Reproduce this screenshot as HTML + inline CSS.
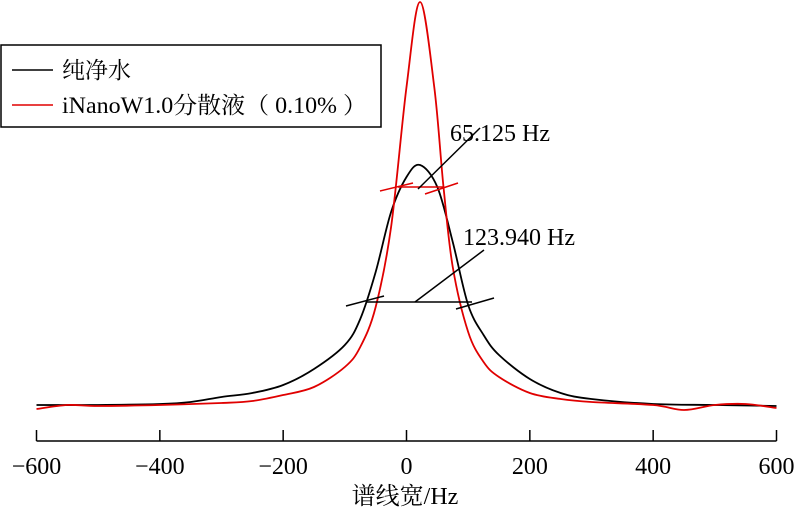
<!DOCTYPE html>
<html><head><meta charset="utf-8"><style>
html,body{margin:0;padding:0;background:#fff;}
svg{display:block;font-family:"Liberation Serif","Noto Serif CJK SC",serif;}
</style></head><body>
<svg id="chart" width="800" height="515" viewBox="0 0 800 515" xmlns="http://www.w3.org/2000/svg">
<g id="axis"></g>
<g id="series"></g>
<g stroke="#e00000" stroke-width="1.5">
<line x1="398" y1="187" x2="443" y2="187"/><line x1="380" y1="191" x2="413" y2="183"/><line x1="425" y1="194" x2="458" y2="183"/>
</g>
<line x1="418" y1="189" x2="480" y2="128" stroke="#000" stroke-width="1.5"/>
<text x="450" y="141" font-size="24">65.125 Hz</text>
<g stroke="#000" stroke-width="1.5">
<line x1="366" y1="302" x2="472" y2="302"/><line x1="346" y1="306" x2="384" y2="296"/><line x1="456" y1="309" x2="494" y2="298"/>
</g>
<line x1="415" y1="302" x2="484" y2="250" stroke="#000" stroke-width="1.5"/>
<text x="463" y="245" font-size="24">123.940 Hz</text>
<g>
<rect x="1" y="45" width="380" height="82" fill="#fff" stroke="#000" stroke-width="1.5"/>
<line x1="12" y1="70" x2="53" y2="70" stroke="#000" stroke-width="1.5"/>
<text x="62" y="78" font-size="23">纯净水</text>
<line x1="12" y1="105" x2="53" y2="105" stroke="#e00000" stroke-width="1.5"/>
<text x="62" y="113" font-size="23" textLength="305" lengthAdjust="spacingAndGlyphs">iNanoW1.0分散液（ 0.10% ）</text>
</g>
<text x="405" y="504" font-size="24" text-anchor="middle">谱线宽/Hz</text>
</svg>
<script>
const ticks = [-600,-400,-200,0,200,400,600];
const tickLabels = ["\u2212600","\u2212400","\u2212200","0","200","400","600"];
const waterFreq = [-600,-500,-400,-350,-300,-250,-200,-150,-100,-75,-50,-25,0,22,50,75,100,125,150,200,250,300,400,500,600];
const waterVals = [2,2,3,5,10,14,22,38,62,88,135,195,230,242,220,165,102,72,52,28,14,8,3,2,1];
const inanowFreq = [-600,-550,-500,-400,-300,-250,-200,-150,-100,-75,-50,-25,0,22,45,60,75,100,125,150,200,250,300,400,450,500,550,600];
const inanowVals = [-2,2,1,2,4,6,12,20,40,60,100,180,320,405,320,220,140,75,45,30,14,8,5,2,-3,2,3,-1];

const NS="http://www.w3.org/2000/svg";
function xs(f){return 406.5+f*(740/1200);}
function ys(v){return 407-v;}
const axis=document.getElementById('axis');
function mk(tag,attrs,parent){const e=document.createElementNS(NS,tag);for(const k in attrs)e.setAttribute(k,attrs[k]);parent.appendChild(e);return e;}
const base=mk('line',{x1:xs(-600),y1:441,x2:xs(600),y2:441,stroke:'#000','stroke-width':1.5},axis);


ticks.forEach((t,i)=>{
  const l=mk('line',{x1:xs(t),y1:430,x2:xs(t),y2:441,stroke:'#000','stroke-width':1.5},axis);
  
  
  const tx=mk('text',{x:xs(t),y:474,'font-size':24,'text-anchor':'middle'},axis);
  tx.textContent=tickLabels[i];
  
  
});
function curve(fr,vals){
  const p=fr.map((f,i)=>[xs(f),ys(vals[i])]);
  let d='M'+p[0][0]+','+p[0][1];
  for(let i=0;i<p.length-1;i++){
    const p0=p[Math.max(0,i-1)],p1=p[i],p2=p[i+1],p3=p[Math.min(p.length-1,i+2)];
    const c1=[p1[0]+(p2[0]-p0[0])/6,p1[1]+(p2[1]-p0[1])/6];
    const c2=[p2[0]-(p3[0]-p1[0])/6,p2[1]-(p3[1]-p1[1])/6];
    d+=' C'+c1[0]+','+c1[1]+' '+c2[0]+','+c2[1]+' '+p2[0]+','+p2[1];
  }
  return d;
}
const sg=document.getElementById('series');
const w=mk('path',{d:curve(waterFreq,waterVals),fill:'none',stroke:'#000','stroke-width':1.8},sg);


const r=mk('path',{d:curve(inanowFreq,inanowVals),fill:'none',stroke:'#e00000','stroke-width':1.8},sg);


</script>
</body></html>
